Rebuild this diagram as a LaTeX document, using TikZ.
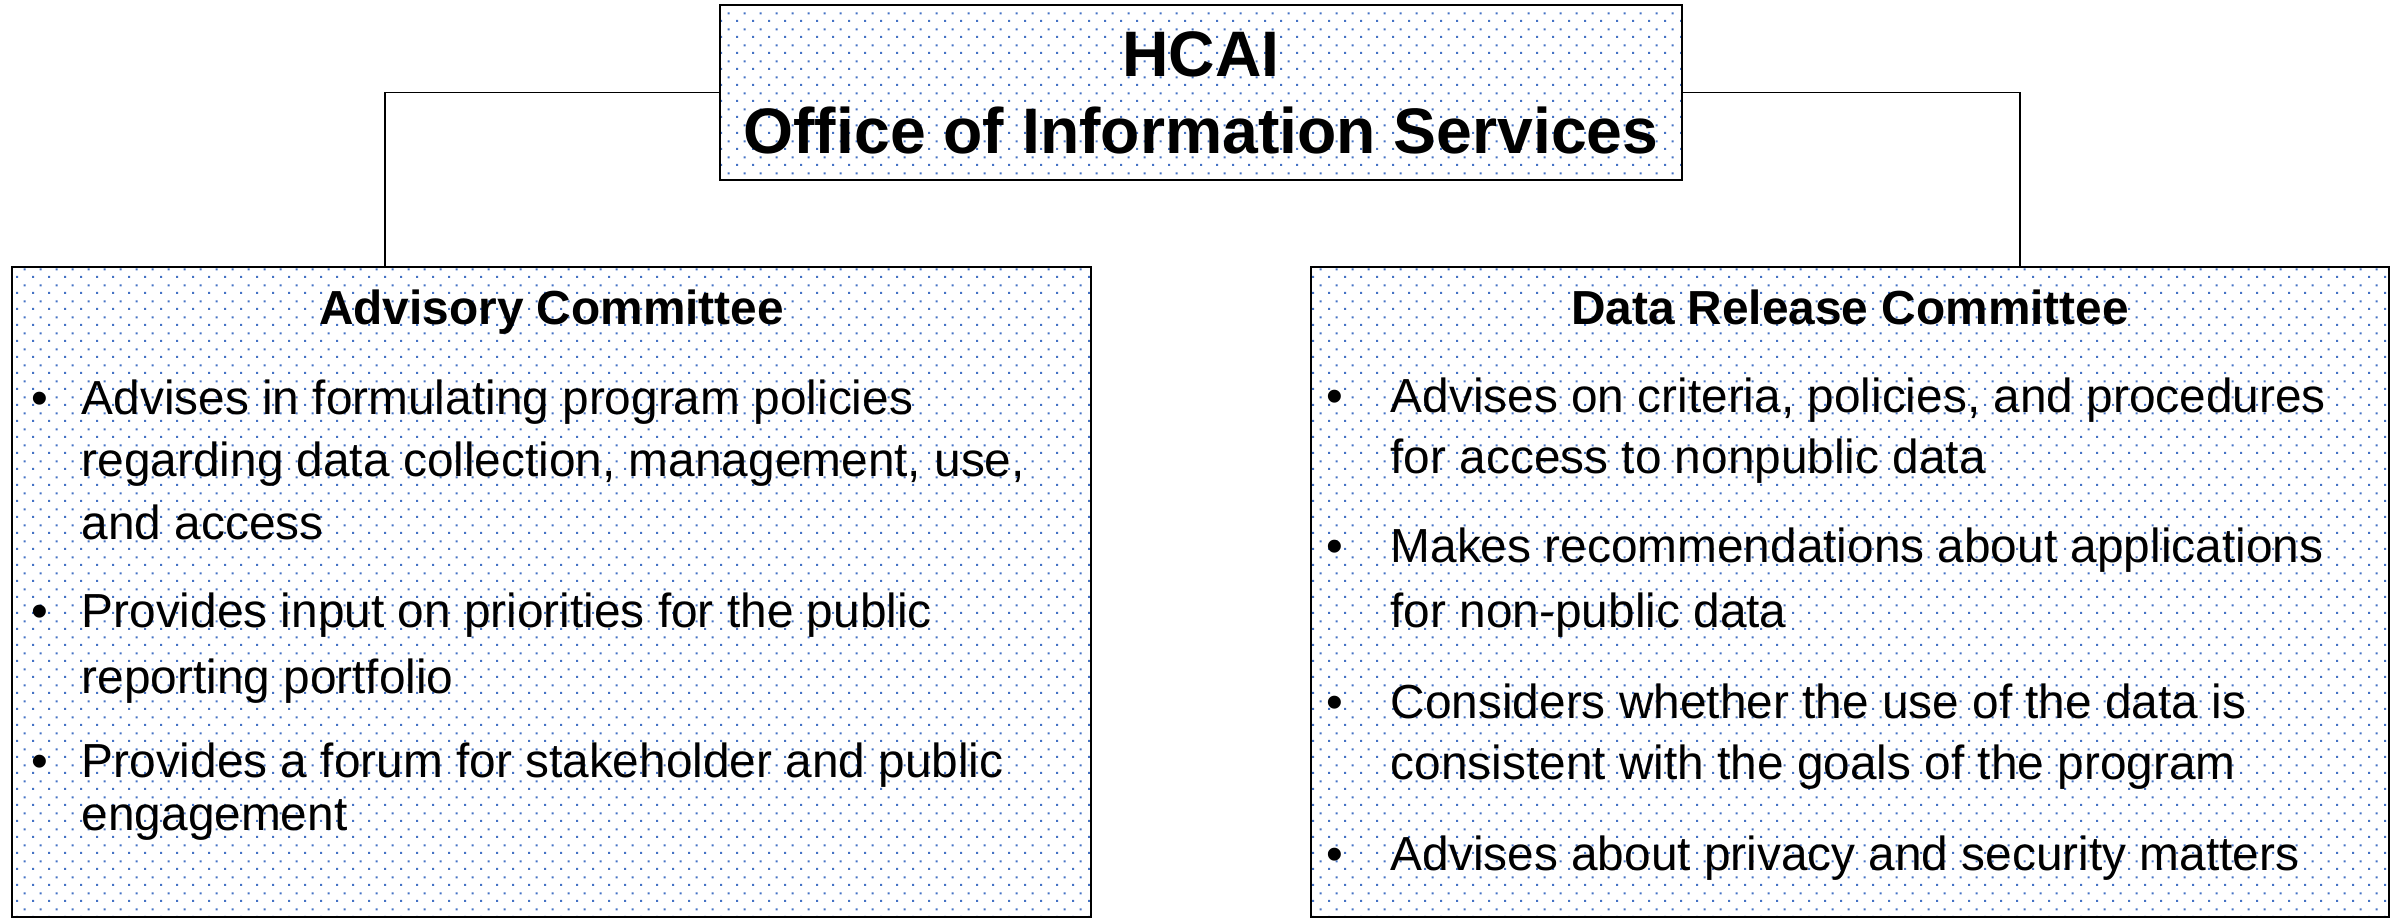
\documentclass[tikz,border=0pt]{standalone}
\usepackage{fontspec}
\setmainfont{Liberation Sans}
\usepackage{tikz}
\usetikzlibrary{patterns,positioning}
\definecolor{dotblue}{RGB}{68,114,196}
% staggered dot grid used as box shading
\pgfdeclarepatternformonly{bluedots}{\pgfpointorigin}{\pgfpoint{0.16cm}{0.16cm}}{\pgfpoint{0.16cm}{0.16cm}}{
  \pgfpathrectangle{\pgfpoint{0cm}{0cm}}{\pgfpoint{0.022cm}{0.022cm}}
  \pgfpathrectangle{\pgfpoint{0.08cm}{0.08cm}}{\pgfpoint{0.022cm}{0.022cm}}
  \pgfusepath{fill}
}
\newcommand\bul[1]{\llap{\textbullet\hspace{#1}}}

\begin{document}
\begin{tikzpicture}
\tikzstyle{dotbox}=[draw=black,line width=0.6pt,pattern=bluedots,pattern color=dotblue,inner sep=0pt]
\tikzstyle{link}=[line width=0.45pt]
\tikzstyle{head}=[inner sep=0pt,anchor=base,font=\fontsize{13.6}{15}\selectfont\bfseries]
\tikzstyle{item}=[inner sep=0pt,anchor=base west,font=\fontsize{13.6}{17.9}\selectfont]
\useasboundingbox (0,0) rectangle (24.03,-9.18);
% the three boxes
\node [dotbox,minimum width=9.62cm,minimum height=1.75cm,align=center,
  font=\fontsize{18.3}{21.9}\selectfont\bfseries] at (12.01,-0.925) (ois)
  {HCAI\\Office of Information Services};
\node [dotbox,minimum width=10.79cm,minimum height=6.505cm] at (5.515,-5.9225) (advisory) {};
\node [dotbox,minimum width=10.78cm,minimum height=6.505cm] at (18.50,-5.9225) (release) {};
% connectors
\coordinate (lkink) at (3.85,-0.925);
\coordinate (rkink) at (20.20,-0.925);
\draw [link] (ois.west) -- (lkink) -- (lkink |- advisory.north);
\draw [link] (ois.east) -- (rkink) -- (rkink |- release.north);
% advisory committee
\node [head] at (5.515,-3.24) (advhead) {Advisory Committee};
\node [item] at (0.81,-4.14) (adv1) {\begin{tabular}[t]{@{}l@{}}\bul{0.33cm}Advises in formulating program policies\\
  regarding data collection, management, use,\\ and access\end{tabular}};
\node [item,font=\fontsize{13.6}{18.8}\selectfont] at (0.81,-6.27) (adv2) {\begin{tabular}[t]{@{}l@{}}\bul{0.33cm}Provides input on priorities for the public\\
  reporting portfolio\end{tabular}};
\node [item,font=\fontsize{13.6}{15.1}\selectfont] at (0.81,-7.77) (adv3) {\begin{tabular}[t]{@{}l@{}}\bul{0.33cm}Provides a forum for stakeholder and public\\
  engagement\end{tabular}};
% data release committee
\node [head] at (18.50,-3.24) (relhead) {Data Release Committee};
\node [item,font=\fontsize{13.6}{17.4}\selectfont] at (13.90,-4.12) (rel1) {\begin{tabular}[t]{@{}l@{}}\bul{0.47cm}Advises on criteria, policies, and procedures\\
  for access to nonpublic data\end{tabular}};
\node [item,font=\fontsize{13.6}{18.5}\selectfont] at (13.90,-5.62) (rel2) {\begin{tabular}[t]{@{}l@{}}\bul{0.47cm}Makes recommendations about applications\\
  for non-public data\end{tabular}};
\node [item,font=\fontsize{13.6}{17.6}\selectfont] at (13.90,-7.18) (rel3) {\begin{tabular}[t]{@{}l@{}}\bul{0.47cm}Considers whether the use of the data is\\
  consistent with the goals of the program\end{tabular}};
\node [item] at (13.90,-8.70) (rel4) {\begin{tabular}[t]{@{}l@{}}\bul{0.47cm}Advises about privacy and security matters\end{tabular}};
\end{tikzpicture}
\end{document}
